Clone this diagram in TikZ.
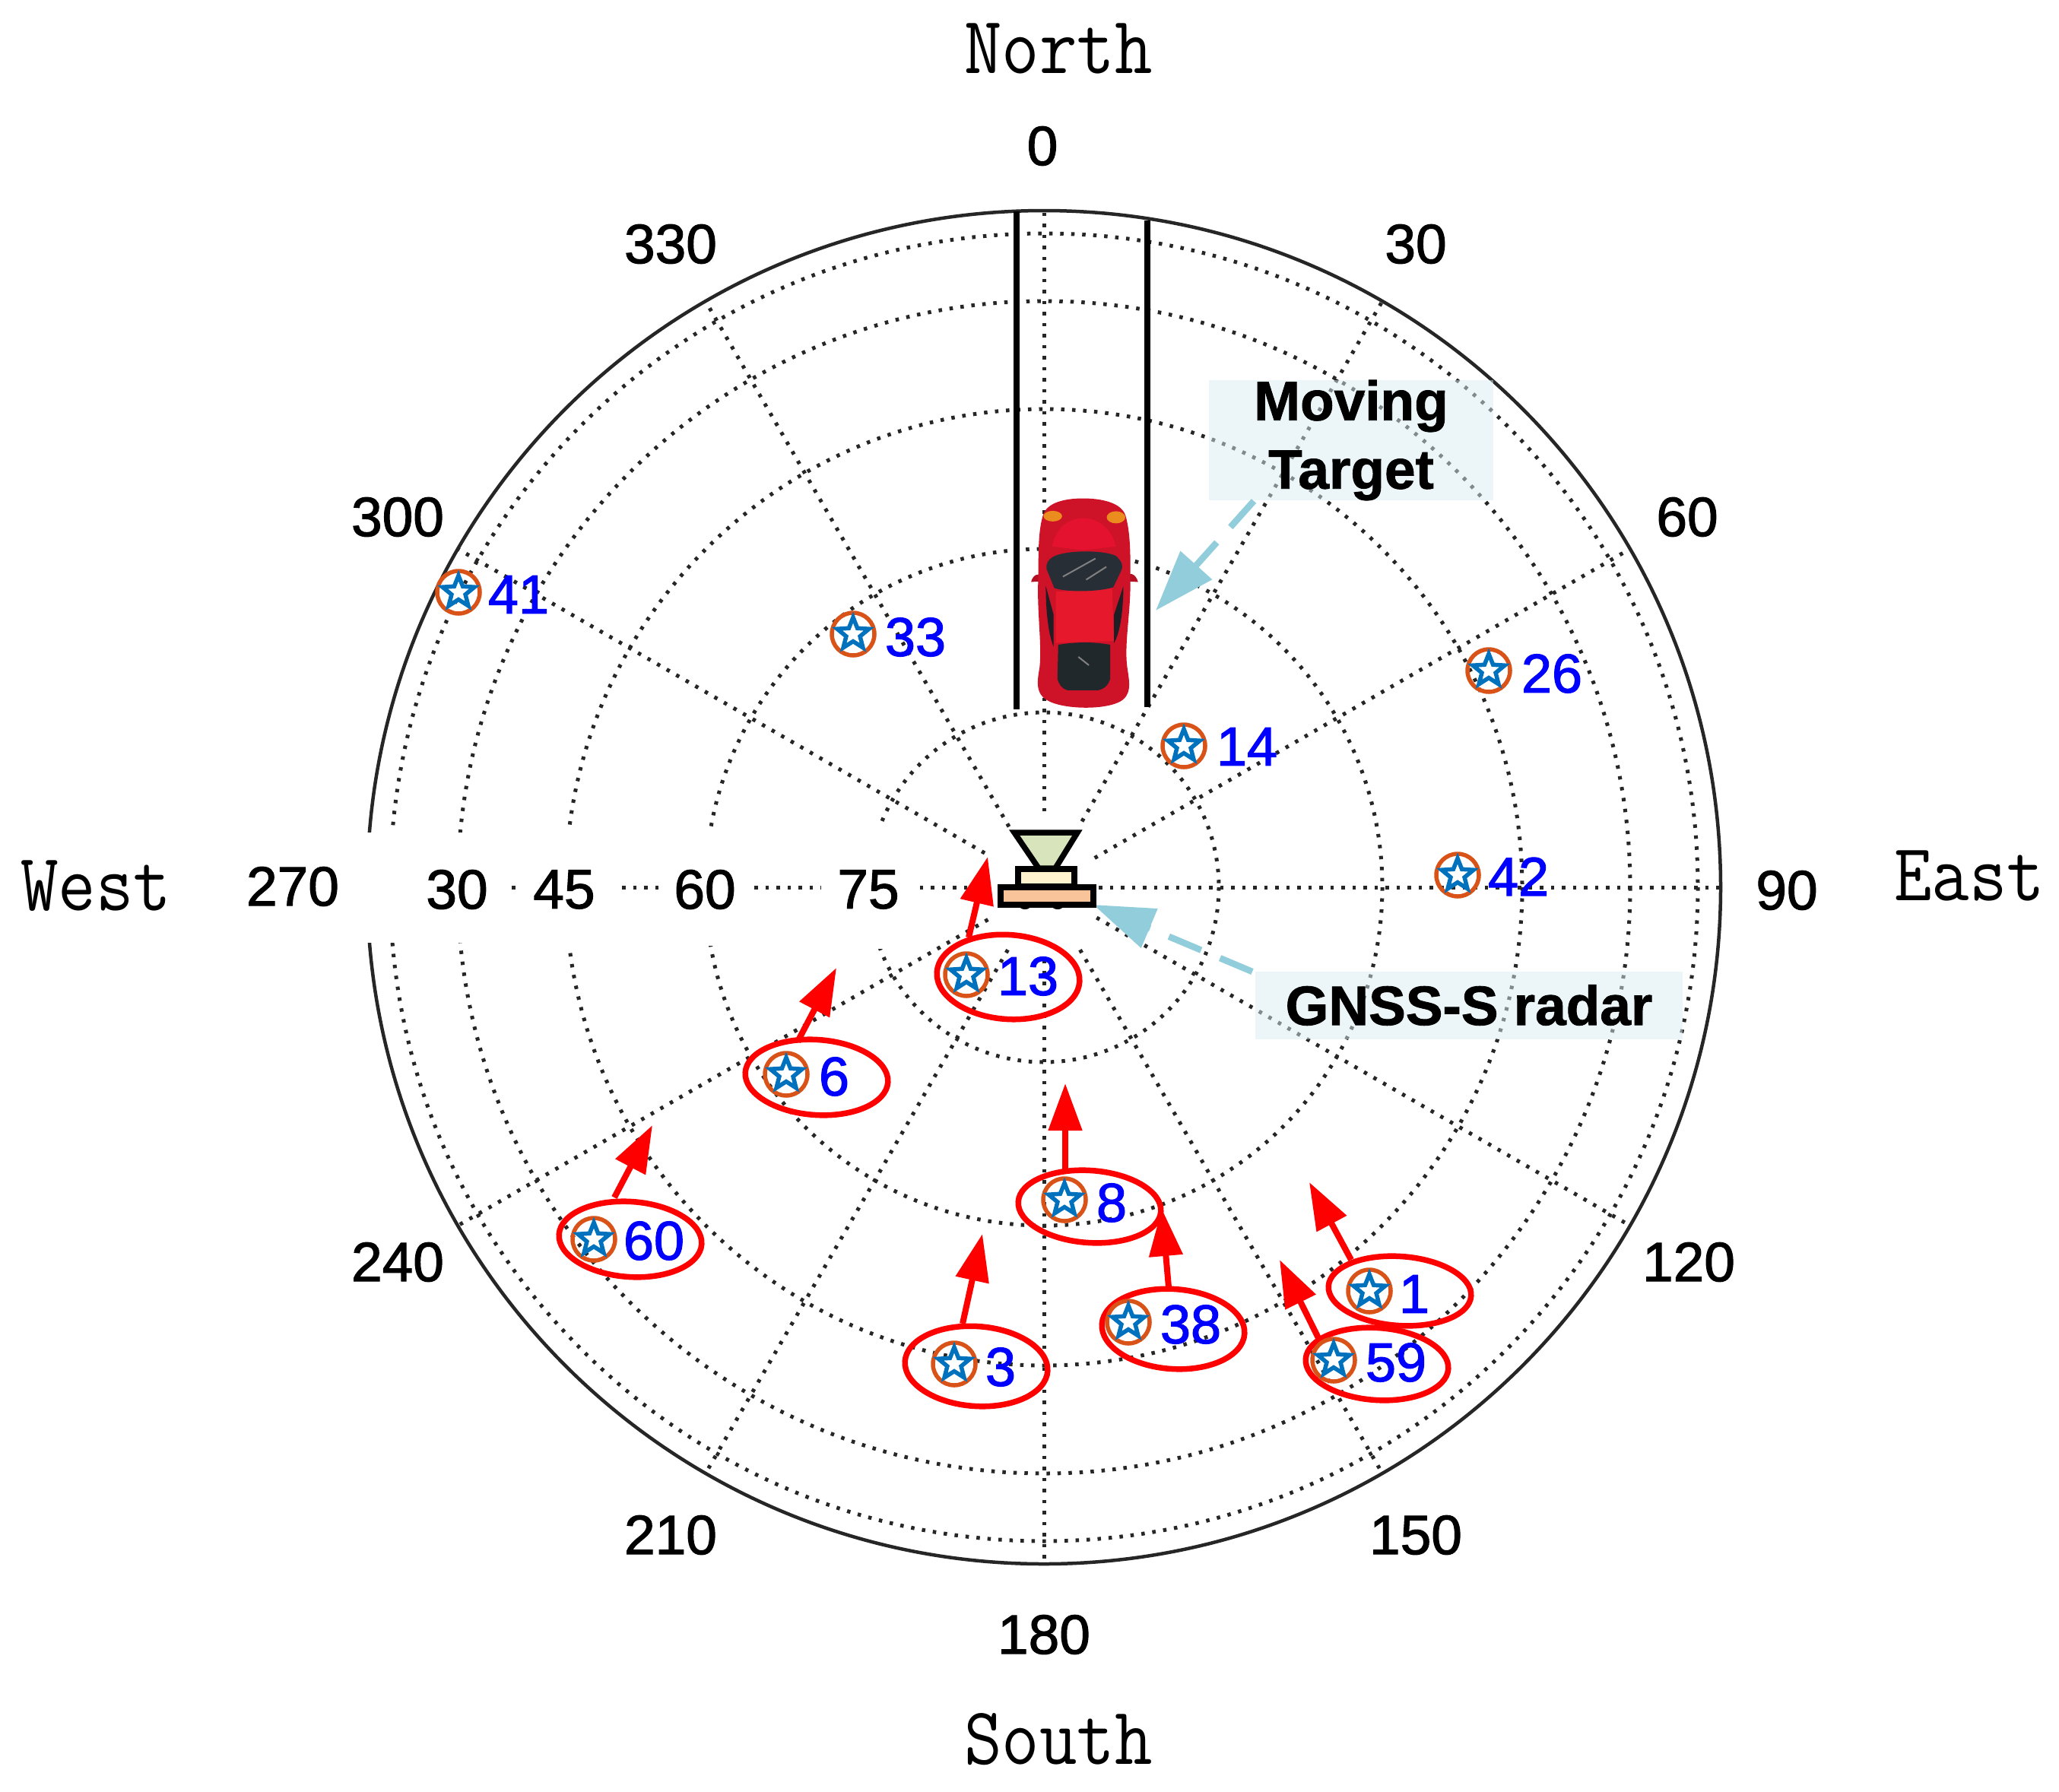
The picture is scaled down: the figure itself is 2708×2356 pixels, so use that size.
\documentclass[tikz,border=0pt]{standalone}
\usepackage{fontspec}
\usepackage{graphicx}
\setmainfont{Liberation Sans}
\newfontfamily\heavy[FakeBold=1.6]{Liberation Sans}
\newfontfamily\heavybold[FakeBold=1.2]{Liberation Sans Bold}
\usetikzlibrary{shapes.geometric,arrows.meta}
\definecolor{gridc}{HTML}{262626}
\definecolor{skyarrow}{HTML}{92CDDC}
\definecolor{boxc}{HTML}{DAEEF3}
\definecolor{mkblue}{HTML}{0072BD}
\definecolor{mkorange}{HTML}{D95319}
\tikzset{
  griddot/.style={gridc,line width=5pt,dash pattern=on 4.5pt off 10pt},
  outerring/.style={gridc,line width=4.5pt},
  masklab/.style={fill=white,draw=none},
  anglab/.style={inner sep=0pt,font=\heavy\fontsize{73}{80}\selectfont,text=black},
  cardlab/.style={inner sep=0pt,font=\ttfamily\fontsize{96}{100}\selectfont,text=black},
  bluelab/.style={inner sep=0pt,font=\heavy\fontsize{72}{76}\selectfont,text=blue},
  mkcirc/.style={circle,draw=mkorange,line width=5.5pt,minimum size=56pt,inner sep=0pt},
  mkstar/.style={star,star points=5,star point ratio=2.3,draw=mkblue,fill=white,line width=5.5pt,minimum size=44pt,inner sep=0pt,line join=miter},
  redell/.style={ellipse,draw=red,line width=7.5pt,inner sep=0pt,minimum width=188pt,rotate=-4},
  redarrow/.style={red,line width=8pt,-{Triangle[length=62pt,width=43pt]}},
  skydash/.style={skyarrow,line width=8.5pt,dash pattern=on 46pt off 27pt,-{Triangle[length=80pt,width=54pt]}},
  infobox/.style={draw=none,fill=boxc,fill opacity=.5,text opacity=1,inner sep=0pt,font=\heavybold\fontsize{73}{90}\selectfont,align=center},
  road/.style={black,line width=8pt},
  radarpart/.style={draw=black,line width=7.5pt,line join=miter},
}
\begin{document}
\begin{tikzpicture}[x=1pt,y=-1pt]
\useasboundingbox[fill=white] (0,0) rectangle (2708,2356);
% grid
\foreach \r in {230,445,629,771,860} \draw[griddot] (1373,1167) circle[radius=\r];
\foreach \a/\s in {0/100,30/100,60/77,90/72,120/80,150/95,180/95,210/95,240/85,270/72,300/90,330/92}
  \draw[griddot] ({1373+\s*sin(\a)},{1167-\s*cos(\a)}) -- ({1373+890*sin(\a)},{1167-890*cos(\a)});
\draw[outerring] (1373,1167) circle[radius=890];
% masks behind the inner labels
\fill[masklab] (470,1095) rectangle (665,1240);
\fill[masklab] (680,1088) rectangle (812,1244);
\fill[masklab] (868,1088) rectangle (990,1244);
\fill[masklab] (1080,1088) rectangle (1210,1248);
% angle labels
\node[anglab] (a0) at (1371,192) {0};
\node[anglab] (a30) at (1862,321) {30};
\node[anglab] (a60) at (2219,680) {60};
\node[anglab] (a90) at (2350,1171) {90};
\node[anglab] (a120) at (2221,1660) {120};
\node[anglab] (a150) at (1862,2019) {150};
\node[anglab] (a180) at (1373,2150) {180};
\node[anglab] (a210) at (882,2019) {210};
\node[anglab] (a240) at (523,1660) {240};
\node[anglab] (a270) at (385,1166) {270};
\node[anglab] (a300) at (523,680) {300};
\node[anglab] (a330) at (882,321) {330};
\node[anglab] (e30) at (601,1170) {30};
\node[anglab] (e45) at (742,1170) {45};
\node[anglab] (e60) at (927,1170) {60};
\node[anglab] (e75) at (1142,1170) {75};
\node[cardlab] (north) at (1392,64) {\scalebox{1}[1.12]{North}};
\node[cardlab] (south) at (1392,2288) {\scalebox{1}[1.12]{South}};
\node[cardlab] (west) at (126,1165) {\scalebox{1}[1.12]{West}};
\node[cardlab] (east) at (2590,1152) {\scalebox{1}[1.12]{East}};
% road
\coordinate (rlt) at (1337,278);
\coordinate (rlb) at (1337,933);
\coordinate (rrt) at (1509,290);
\coordinate (rrb) at (1509,930);
\draw[road] (rlt) -- (rlb);
\draw[road] (rrt) -- (rrb);
% car, in the coordinates of a crop of the reference
\begin{scope}[shift={(1200,460)},x=0.51pt,y=-0.4975pt]
  \fill[fill={rgb,255:red,180;green,16;blue,36}] (306,614) .. controls (312,592) and (325,592) .. (335,596) -- (335,612) -- cycle;
  \fill[fill={rgb,255:red,180;green,16;blue,36}] (582,614) .. controls (575,590) and (560,590) .. (548,594) -- (548,612) -- cycle;
  \fill[fill={rgb,255:red,206;green,18;blue,40}] (440,393)
    .. controls (395,393) and (345,403) .. (336,440)
    .. controls (322,490) and (326,560) .. (324,620)
    .. controls (322,700) and (334,780) .. (328,840)
    .. controls (320,885) and (318,915) .. (358,932)
    .. controls (400,950) and (490,952) .. (532,932)
    .. controls (567,915) and (560,880) .. (554,840)
    .. controls (546,780) and (562,700) .. (562,620)
    .. controls (562,560) and (564,490) .. (550,440)
    .. controls (540,403) and (485,393) .. (440,393) -- cycle;
  \fill[fill={rgb,255:red,230;green,24;blue,44}] (370,640) -- (515,630) -- (520,770) -- (370,775) -- cycle;
  \fill[fill={rgb,255:red,228;green,18;blue,46}] (360,520) .. controls (380,420) and (500,420) .. (525,520) -- (440,530) -- cycle;
  \fill[fill={rgb,255:red,40;green,46;blue,54}] (362,548)
    .. controls (390,530) and (490,528) .. (525,545)
    .. controls (540,560) and (545,570) .. (538,585)
    -- (518,628) .. controls (480,640) and (400,642) .. (366,630)
    -- (346,580) .. controls (344,565) and (350,555) .. (362,548) -- cycle;
  \fill[fill={rgb,255:red,32;green,40;blue,44}] (376,780)
    .. controls (420,772) and (470,772) .. (510,780)
    -- (510,870) .. controls (505,890) and (490,898) .. (480,900)
    -- (400,900) .. controls (385,896) and (378,885) .. (374,870) -- cycle;
  \fill[fill={rgb,255:red,30;green,30;blue,36}] (344,625) -- (364,700) -- (364,785) .. controls (350,750) and (344,690) .. (344,625) -- cycle;
  \fill[fill={rgb,255:red,30;green,30;blue,36}] (544,625) -- (520,700) -- (520,775) .. controls (535,750) and (544,690) .. (544,625) -- cycle;
  \fill[fill={rgb,255:red,235;green,140;blue,30}] (362,440) ellipse[x radius=24,y radius=14];
  \fill[fill={rgb,255:red,235;green,140;blue,30}] (525,443) ellipse[x radius=24,y radius=16];
  \draw[gray,line width=2pt] (388,600) -- (472,552);
  \draw[gray,line width=2pt] (448,608) -- (500,574);
  \draw[gray,line width=2pt] (428,812) -- (455,834);
\end{scope}
% red arrows
\foreach \n/\tx/\ty/\hx/\hy in {13/1274/1233/1299/1127,6/1049/1370/1100/1273,60/808/1575/858/1480,8/1401/1538/1401/1425,38/1537/1693/1528/1590,1/1777/1657/1722/1555,59/1734/1760/1683/1657,3/1266/1741/1292/1623}{
  \coordinate (tail\n) at (\tx,\ty);
  \coordinate (tip\n) at (\hx,\hy);
  \draw[redarrow] (tail\n) -- (tip\n);
}
% red ellipses
\foreach \n/\x/\y/\h in {13/1326/1285/111,6/1074/1417/99,60/829/1630/99,8/1433/1587/95,38/1543/1748/105,1/1841/1698/91,59/1811/1794/95,3/1284/1797/105}
  \node[redell,minimum height=\h pt] (ell\n) at (\x,\y) {};
% markers and numbers
\foreach \n/\x/\y/\lx/\ly in {41/603/779/682/782,33/1122/834/1204/838,26/1958/882/2041/886,14/1557/981/1640/982,42/1917/1151/1997/1153,13/1271/1282/1352/1284,6/1034/1413/1097/1416,60/781/1630/860/1632,8/1400/1578/1462/1582,38/1484/1739/1566/1742,1/1801/1698/1860/1702,59/1754/1789/1836/1792,3/1255/1794/1316/1798}{
  \node[mkcirc] (mk\n) at (\x,\y) {};
  \node[mkstar] (st\n) at (\x,\y) {};
  \node[bluelab] (lb\n) at (\lx,\ly) {\n};
}
% callouts
\node[infobox,minimum width=374pt,minimum height=154pt] (movebox) at (1777,579) {Moving\\Target};
\node[infobox,minimum width=562pt,minimum height=89pt] (gnssbox) at (1932,1322) {GNSS-S radar};
\coordinate (movetail) at (1649,659);
\coordinate (movetip) at (1520,803);
\coordinate (gnsstail) at (1647,1278);
\coordinate (gnsstip) at (1438,1190);
\draw[skydash] (movetail) -- (movetip);
\draw[skydash] (gnsstail) -- (gnsstip);
% radar
\fill[black] (1348,1192) ellipse[x radius=7,y radius=4];
\fill[black] (1391,1192) ellipse[x radius=7,y radius=4];
\draw[radarpart,fill={rgb,255:red,216;green,228;blue,188}] (1334,1095) -- (1417,1095) -- (1388,1142) -- (1366,1142) -- cycle;
\draw[radarpart,fill={rgb,255:red,255;green,242;blue,204}] (1339,1143) rectangle (1413,1166);
\draw[radarpart,fill={rgb,255:red,250;green,196;blue,154}] (1316,1167) rectangle (1438,1190);
\end{tikzpicture}
\end{document}
